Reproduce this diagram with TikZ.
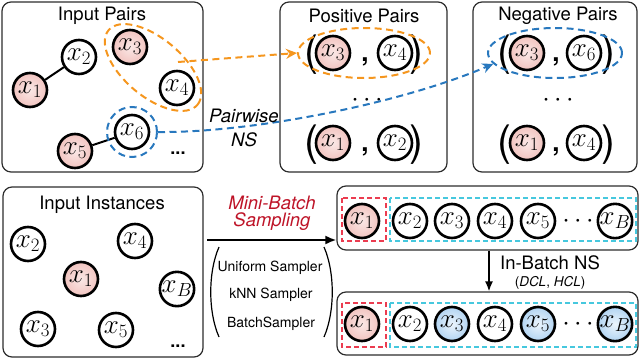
\RequirePackage{fix-cm}
\documentclass[tikz,border=0pt]{standalone}
\usepackage[no-math]{fontspec}
\newfontfamily\hv{TeX Gyre Heros}
\usetikzlibrary{arrows.meta,shapes.geometric}
\definecolor{boxc}{RGB}{45,45,45}
\definecolor{pinkin}{RGB}{250,232,230}
\definecolor{pinkout}{RGB}{242,196,192}
\definecolor{bluein}{RGB}{236,245,253}
\definecolor{blueout}{RGB}{178,212,242}
\definecolor{orangec}{RGB}{245,150,30}
\definecolor{bluec}{RGB}{40,120,190}
\definecolor{cyanc}{RGB}{70,200,222}
\definecolor{redc}{RGB}{235,60,80}
\definecolor{mbred}{RGB}{190,20,40}
\begin{document}
\begin{tikzpicture}[x=1pt,y=-1pt,
  box/.style={draw=boxc, line width=1.2pt, rounded corners=9pt, inner sep=0pt},
  nd/.style={circle, draw=black, line width=2.6pt, minimum size=34pt, inner sep=0pt, font=\fontsize{27}{30}\selectfont},
  pk/.style={nd, inner color=pinkin, outer color=pinkout},
  bl/.style={nd, inner color=bluein, outer color=blueout},
  wh/.style={nd, fill=white},
  lbl/.style={inner sep=0pt, font=\hv\fontsize{18.5}{20}\selectfont},
  small/.style={inner sep=0pt, font=\hv\fontsize{14}{16}\selectfont},
  par/.style={inner sep=0pt, font=\hv\fontsize{42}{45}\selectfont},
  comma/.style={inner sep=0pt, font=\hv\bfseries\fontsize{26}{28}\selectfont},
  dots/.style={inner sep=0pt, font=\fontsize{27}{30}\selectfont},
  odash/.style={draw=orangec, line width=2pt, dash pattern=on 7pt off 4.5pt},
  bdash/.style={draw=bluec, line width=2pt, dash pattern=on 7pt off 4.5pt},
  rdash/.style={draw=redc, line width=1.4pt, dash pattern=on 5pt off 3pt},
  cdash/.style={draw=cyanc, line width=1.4pt, dash pattern=on 5pt off 3pt},
  edge/.style={line width=2pt, draw=black}
]
\useasboundingbox (0,0) rectangle (640,359);

% ---------- boxes ----------
\node[box, minimum width=201pt, minimum height=170pt] (boxIP) at (102.5,87) {};
\node[box, minimum width=167pt, minimum height=170pt] (boxPP) at (363.5,87) {};
\node[box, minimum width=164pt, minimum height=170pt] (boxNP) at (555,87) {};
\node[box, minimum width=200pt, minimum height=170pt] (boxII) at (103,272) {};
\node[box, minimum width=301pt, minimum height=64pt] (boxB1) at (487.5,218) {};
\node[box, minimum width=301pt, minimum height=63pt] (boxB2) at (487.5,323.5) {};

% ---------- titles ----------
\node[lbl] (tIP) at (102,16) {Input Pairs};
\node[lbl] (tPP) at (364,16) {Positive Pairs};
\node[lbl] (tNP) at (558,16) {Negative Pairs};
\node[lbl] (tII) at (102,205) {Input Instances};

% ---------- input pairs ----------
\node[pk] (a1) at (30,90) {$x_1$};
\node[wh] (a2) at (79,57) {$x_2$};
\node[pk] (a3) at (130,47) {$x_3$};
\node[wh] (a4) at (177,88) {$x_4$};
\node[wh] (a6) at (132,132) {$x_6$};
\node[pk] (a5) at (75,151) {$x_5$};
\draw[edge] (a1) -- (a2);
\draw[edge] (a5) -- (a6);
\node[inner sep=0pt, font=\hv\bfseries\fontsize{18}{20}\selectfont] (adots) at (178,153) {...};
\node[ellipse, odash, minimum width=116pt, minimum height=58pt, rotate=-40] (e34) at (153,67.5) {};
\node[circle, bdash, minimum size=50pt] (e6) at (132,132) {};

% ---------- positive pairs ----------
\node[par] (pl1) at (311,55) {(};
\node[pk] (p3) at (333,53) {$x_3$};
\node[comma] (pc1) at (365,62) {,};
\node[wh] (p4) at (395,53) {$x_4$};
\node[par] (pr1) at (416,55) {)};
\node[dots] (pdots) at (367,100) {$\cdots$};
\node[par] (pl2) at (311,145) {(};
\node[pk] (p1) at (333,143) {$x_1$};
\node[comma] (pc2) at (365,152) {,};
\node[wh] (p2) at (395,143) {$x_2$};
\node[par] (pr2) at (416,145) {)};
\node[ellipse, odash, minimum width=132pt, minimum height=50pt] (ePos) at (364,53) {};

% ---------- negative pairs ----------
\node[par] (nl1) at (504,55) {(};
\node[pk] (n3) at (527,53) {$x_3$};
\node[comma] (nc1) at (556,62) {,};
\node[wh] (n6) at (584,53) {$x_6$};
\node[par] (nr1) at (608,55) {)};
\node[dots] (ndots) at (558,100) {$\cdots$};
\node[par] (nl2) at (504,145) {(};
\node[pk] (n1) at (527,143) {$x_1$};
\node[comma] (nc2) at (556,152) {,};
\node[wh] (n4) at (584,143) {$x_4$};
\node[par] (nr2) at (608,145) {)};
\node[ellipse, bdash, minimum width=134pt, minimum height=50pt] (eNeg) at (555,53) {};

% ---------- pairwise arrows ----------
\coordinate (oStart) at (178,62);
\draw[odash, -{Stealth[length=11pt,width=10pt]}] (oStart) -- (ePos.west);
\draw[bdash, -{Stealth[length=11pt,width=10pt]}] (e6.east) .. controls (250,133) and (400,104) .. (eNeg.190);
\node[lbl, font=\hv\itshape\fontsize{18.5}{20}\selectfont] (tPw) at (244,116) {Pairwise};
\node[lbl, font=\hv\itshape\fontsize{18.5}{20}\selectfont] (tNS) at (244,140) {NS};

% ---------- input instances ----------
\node[wh] (b2) at (28,244) {$x_2$};
\node[wh] (b4) at (135,241) {$x_4$};
\node[pk] (b1) at (81,279) {$x_1$};
\node[wh] (bB) at (177,289) {$x_B$};
\node[wh] (b3) at (38,329) {$x_3$};
\node[wh] (b5) at (116,330) {$x_5$};
\node[inner sep=0pt, font=\hv\bfseries\fontsize{18}{20}\selectfont] (bdots) at (178,346) {...};

% ---------- mini-batch sampling ----------
\node[lbl, text=mbred, font=\hv\itshape\fontsize{18.5}{20}\selectfont] (tMB) at (272,203) {Mini-Batch};
\node[lbl, text=mbred, font=\hv\itshape\fontsize{18.5}{20}\selectfont] (tSa) at (272,222) {Sampling};
\coordinate (mbS) at (207,240);
\coordinate (mbE) at (boxB1.west |- mbS);
\draw[line width=2pt, -{Latex[length=11pt,width=9pt]}] (mbS) -- (mbE);
\node[small] (s1) at (270,268) {Uniform Sampler};
\node[small] (s2) at (271,295) {kNN Sampler};
\node[small] (s3) at (271,324) {BatchSampler};
\draw[line width=1.2pt] (219,247) .. controls (208,272) and (208,312) .. (219,337);
\draw[line width=1.2pt] (324,247) .. controls (335,272) and (335,312) .. (324,337);

% ---------- batch 1 ----------
\node[pk] (c1) at (362,221) {$x_1$};
\node[wh] (c2) at (410,221) {$x_2$};
\node[wh] (c3) at (452,221) {$x_3$};
\node[wh] (c4) at (495,221) {$x_4$};
\node[wh] (c5) at (538,221) {$x_5$};
\node[dots] (cdots) at (578,221) {$\cdots$};
\node[wh] (cB) at (615,221) {$x_B$};
\draw[rdash] (342,198) rectangle (386,241);
\draw[cdash] (390,198) rectangle (636,241);

% ---------- in-batch NS ----------
\coordinate (dnx) at (489,0);
\draw[line width=1.6pt, -{Latex[length=10pt,width=8pt]}] (boxB1.south -| dnx) -- (boxB2.north -| dnx);
\node[lbl] (tIB) at (550,263) {In-Batch NS};
\node[inner sep=0pt, font=\hv\fontsize{13.5}{15}\selectfont] (tDH) at (550,283) {(\textit{DCL}, \textit{HCL})};

% ---------- batch 2 ----------
\node[pk] (d1) at (362,324) {$x_1$};
\node[wh] (d2) at (410,324) {$x_2$};
\node[bl] (d3) at (452,324) {$x_3$};
\node[wh] (d4) at (495,324) {$x_4$};
\node[bl] (d5) at (538,324) {$x_5$};
\node[dots] (ddots) at (578,324) {$\cdots$};
\node[bl] (dB) at (615,324) {$x_B$};
\draw[rdash] (342,303) rectangle (386,347);
\draw[cdash] (390,303) rectangle (636,347);
\end{tikzpicture}
\end{document}
